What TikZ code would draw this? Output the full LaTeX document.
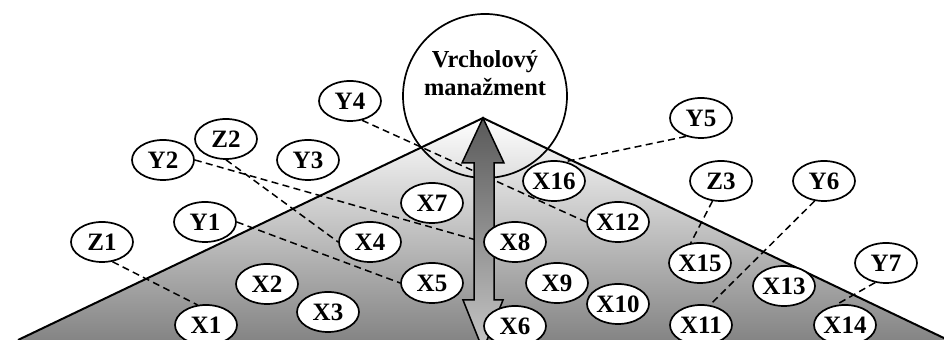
\documentclass[tikz,border=0pt]{standalone}
\usepackage{fontspec}
\setmainfont{Liberation Serif}
\usetikzlibrary{shapes.geometric}
\pgfdeclarelayer{back}
\pgfdeclarelayer{mid}
\pgfsetlayers{back,mid,main}

\begin{document}
\begin{tikzpicture}[
  x=0.5pt,y=-0.5pt,
  bubble/.style={ellipse,draw=black,fill=white,line width=0.85pt,minimum width=31pt,minimum height=20pt,inner xsep=-1pt,inner ysep=0pt,font=\fontsize{12.5}{14}\selectfont\bfseries},
  topcircle/.style={circle,draw=black,line width=0.85pt,minimum size=82pt,inner sep=0pt},
  link/.style={black,line width=0.75pt,dash pattern=on 3.5pt off 2.2pt},
  lab/.style={align=center,font=\fontsize{12.2}{14}\selectfont\bfseries}
]
\useasboundingbox (0,0) rectangle (944,340);

\def\apx{483}
\def\apy{118}

% pyramid
\begin{pgfonlayer}{back}
\shade[top color=white,bottom color=black!48] (18,340) -- (\apx,\apy) -- (948,340) -- cycle;
\draw[line width=1pt] (18,340) -- (\apx,\apy) -- (948,340);
\end{pgfonlayer}

\foreach \n/\x/\y in {Z1/102/242, Y2/163/160, Z2/226/139, Y3/308/160, Y1/205/222,
  Y4/350/101, X1/206/325, X2/267/284, X3/328/312, X4/370/242, X5/432/283,
  X7/432/203, X8/515/242, X6/515/326, X9/557/283, X10/618/304, X16/554/181,
  X12/618/222, Y5/701/118, Z3/721/181, Y6/824/181, X15/700/263, X13/784/286,
  Y7/886/263, X11/701/325, X14/845/325}{
  \node[bubble] (\n) at (\x,\y) {\n};
}

\begin{pgfonlayer}{mid}
\node[topcircle] (top) at (485,96) {};
\node[lab] (toplab) at (485,73) {Vrcholový\\manažment};

\draw[link] (Z1.-62) -- (X1.113);
\draw[link] (Y1.east) -- (X5.west);
\draw[link] (Y2.east) -- (X8.west);
\draw[link] (Z2.south) -- (X4.west);
\draw[link] (Y4.-58) -- (X12.west);
\draw[link] (Y5.-129) -- (X16.59);
\draw[link] (Z3.-113) -- (X15.115);
\draw[link] (Y6.-115) -- (X11.66);
\draw[link] (Y7.-119) -- (X14.115);

% arrow up/down
\shadedraw[top color=black!65,bottom color=black!22,line width=0.75pt]
  (\apx,\apy) -- (504,163) -- (494,163) -- (494,300) -- (503,300) -- (483,350)
  -- (463,300) -- (474,300) -- (474,163) -- (462,163) -- cycle;
\end{pgfonlayer}

\end{tikzpicture}
\end{document}
